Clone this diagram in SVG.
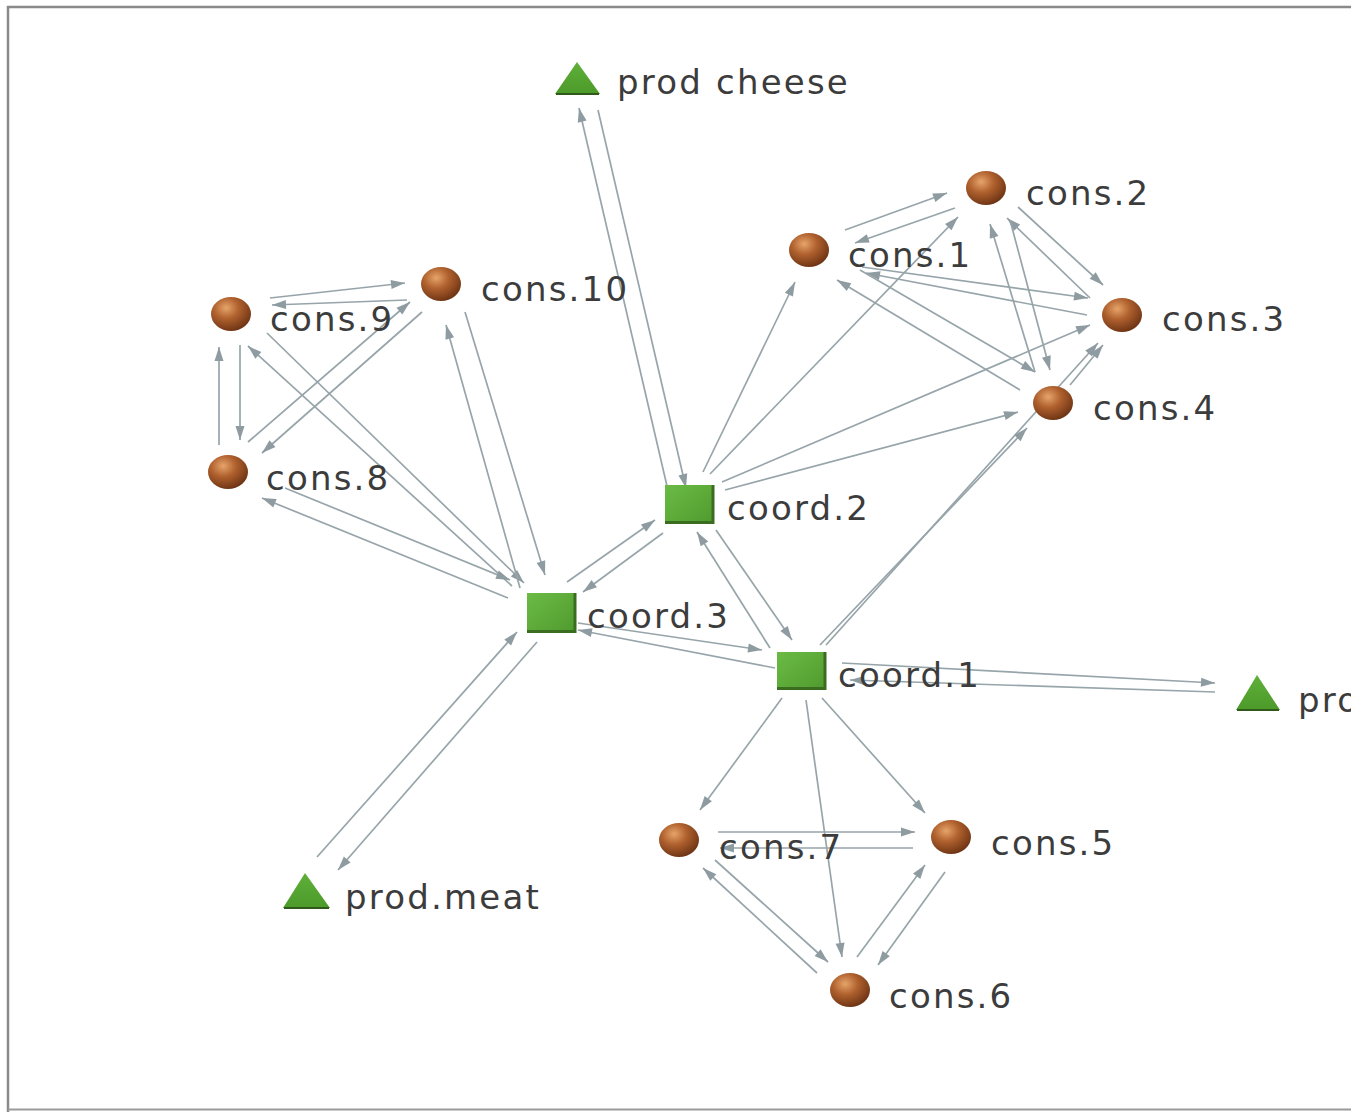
<svg xmlns="http://www.w3.org/2000/svg" width="1351" height="1112" viewBox="0 0 1351 1112">
<defs>
<radialGradient id="ball" cx="0.38" cy="0.32" r="0.7">
<stop offset="0" stop-color="#e6a46a"/>
<stop offset="0.45" stop-color="#b0612e"/>
<stop offset="1" stop-color="#6e3414"/>
</radialGradient>
<linearGradient id="sq" x1="0" y1="0" x2="1" y2="1">
<stop offset="0" stop-color="#6cbb45"/>
<stop offset="1" stop-color="#4f9a2e"/>
</linearGradient>
<linearGradient id="tri" x1="0" y1="0" x2="0" y2="1">
<stop offset="0" stop-color="#5fb03a"/>
<stop offset="1" stop-color="#4c9a2a"/>
</linearGradient>
<marker id="arr" markerUnits="userSpaceOnUse" markerWidth="20" markerHeight="12" refX="16" refY="6" orient="auto" overflow="visible">
<path d="M2,1.5 L16,6 L2,10.5 Z" fill="#8e9ca2"/>
</marker>
</defs>
<style>
.e{stroke:#97a5aa;stroke-width:1.7;fill:none;marker-end:url(#arr)}
.b{fill:url(#ball)}
.s{fill:url(#sq);stroke:#3b6d20;stroke-width:0}
.t{fill:url(#tri)}
.lbl{font-family:"DejaVu Sans","Liberation Sans",sans-serif;font-size:34px;letter-spacing:2.2px;fill:#3c3c3c}
</style>
<rect x="0" y="0" width="1351" height="1112" fill="#ffffff"/>
<path d="M8,1112 L8,7 L1351,7" fill="none" stroke="#8a8a8a" stroke-width="2.5"/>
<path d="M8,1109.5 L1351,1109.5" fill="none" stroke="#9a9a9a" stroke-width="2"/>
<g id="connectors">
<line class="e" x1="598" y1="110" x2="686" y2="488"/>
<line class="e" x1="667" y1="486" x2="579" y2="108"/>
<line class="e" x1="703" y1="472" x2="795" y2="282"/>
<line class="e" x1="710" y1="474" x2="958" y2="217"/>
<line class="e" x1="722" y1="482" x2="1090" y2="325"/>
<line class="e" x1="725" y1="490" x2="1018" y2="412"/>
<line class="e" x1="845" y1="230" x2="947" y2="193"/>
<line class="e" x1="955" y1="208" x2="855" y2="243"/>
<line class="e" x1="862" y1="267" x2="1088" y2="298"/>
<line class="e" x1="1087" y1="315" x2="866" y2="273"/>
<line class="e" x1="860" y1="270" x2="1035" y2="372"/>
<line class="e" x1="1020" y1="390" x2="837" y2="280"/>
<line class="e" x1="1018" y1="207" x2="1103" y2="285"/>
<line class="e" x1="1090" y1="298" x2="1007" y2="218"/>
<line class="e" x1="1010" y1="220" x2="1050" y2="370"/>
<line class="e" x1="1035" y1="372" x2="990" y2="224"/>
<line class="e" x1="1070" y1="385" x2="1103" y2="345"/>
<line class="e" x1="826" y1="645" x2="1098" y2="343"/>
<line class="e" x1="820" y1="645" x2="1027" y2="428"/>
<line class="e" x1="270" y1="298" x2="405" y2="283"/>
<line class="e" x1="407" y1="300" x2="272" y2="305"/>
<line class="e" x1="219" y1="445" x2="219" y2="347"/>
<line class="e" x1="240" y1="345" x2="240" y2="440"/>
<line class="e" x1="248" y1="442" x2="410" y2="302"/>
<line class="e" x1="422" y1="312" x2="262" y2="453"/>
<line class="e" x1="512" y1="586" x2="248" y2="346"/>
<line class="e" x1="267" y1="333" x2="524" y2="583"/>
<line class="e" x1="520" y1="588" x2="446" y2="325"/>
<line class="e" x1="465" y1="312" x2="545" y2="575"/>
<line class="e" x1="285" y1="488" x2="510" y2="580"/>
<line class="e" x1="508" y1="598" x2="262" y2="498"/>
<line class="e" x1="567" y1="582" x2="655" y2="520"/>
<line class="e" x1="663" y1="533" x2="583" y2="592"/>
<line class="e" x1="578" y1="623" x2="762" y2="650"/>
<line class="e" x1="775" y1="668" x2="578" y2="630"/>
<line class="e" x1="770" y1="648" x2="697" y2="532"/>
<line class="e" x1="716" y1="530" x2="792" y2="640"/>
<line class="e" x1="842" y1="663" x2="1215" y2="683"/>
<line class="e" x1="1215" y1="692" x2="850" y2="680"/>
<line class="e" x1="317" y1="857" x2="517" y2="632"/>
<line class="e" x1="537" y1="642" x2="338" y2="870"/>
<line class="e" x1="782" y1="698" x2="700" y2="810"/>
<line class="e" x1="822" y1="698" x2="925" y2="813"/>
<line class="e" x1="806" y1="700" x2="842" y2="957"/>
<line class="e" x1="718" y1="832" x2="915" y2="832"/>
<line class="e" x1="913" y1="848" x2="720" y2="848"/>
<line class="e" x1="715" y1="860" x2="828" y2="962"/>
<line class="e" x1="817" y1="973" x2="703" y2="868"/>
<line class="e" x1="857" y1="957" x2="925" y2="865"/>
<line class="e" x1="945" y1="872" x2="878" y2="965"/>
</g>
<g id="prod_cheese"><polygon class="t" points="555,94 600,94 577,62"/><line x1="556" y1="94" x2="599" y2="94" stroke="#2f5a1a" stroke-width="2"/><text class="lbl" x="617" y="94">prod cheese</text></g>
<g id="cons2"><ellipse class="b" cx="986" cy="188" rx="20" ry="17"/><text class="lbl" x="1026" y="205">cons.2</text></g>
<g id="cons1"><ellipse class="b" cx="809" cy="250" rx="20" ry="17"/><text class="lbl" x="848" y="267">cons.1</text></g>
<g id="cons3"><ellipse class="b" cx="1122" cy="315" rx="20" ry="17"/><text class="lbl" x="1162" y="331">cons.3</text></g>
<g id="cons4"><ellipse class="b" cx="1053" cy="403" rx="20" ry="17"/><text class="lbl" x="1093" y="420">cons.4</text></g>
<g id="cons10"><ellipse class="b" cx="441" cy="284" rx="20" ry="17"/><text class="lbl" x="481" y="301">cons.10</text></g>
<g id="cons9"><ellipse class="b" cx="231" cy="314" rx="20" ry="17"/><text class="lbl" x="270" y="331">cons.9</text></g>
<g id="cons8"><ellipse class="b" cx="228" cy="472" rx="20" ry="17"/><text class="lbl" x="266" y="490">cons.8</text></g>
<g id="coord2"><rect class="s" x="665" y="485" width="48" height="39"/><path d="M665,522.5 H713 V485" fill="none" stroke="#3b6d20" stroke-width="3"/><text class="lbl" x="727" y="520">coord.2</text></g>
<g id="coord3"><rect class="s" x="527" y="593" width="48" height="40"/><path d="M527,631.5 H575 V593" fill="none" stroke="#3b6d20" stroke-width="3"/><text class="lbl" x="587" y="628">coord.3</text></g>
<g id="coord1"><rect class="s" x="777" y="652" width="48" height="38"/><path d="M777,688.5 H825 V652" fill="none" stroke="#3b6d20" stroke-width="3"/><text class="lbl" x="838" y="687">coord.1</text></g>
<g id="prod_right"><polygon class="t" points="1236,710 1280,710 1257,675"/><line x1="1237" y1="710" x2="1279" y2="710" stroke="#2f5a1a" stroke-width="2"/><text class="lbl" x="1298" y="712">pro</text></g>
<g id="cons7"><ellipse class="b" cx="679" cy="840" rx="20" ry="17"/><text class="lbl" x="719" y="859">cons.7</text></g>
<g id="cons5"><ellipse class="b" cx="951" cy="837" rx="20" ry="17"/><text class="lbl" x="991" y="855">cons.5</text></g>
<g id="cons6"><ellipse class="b" cx="850" cy="990" rx="20" ry="17"/><text class="lbl" x="889" y="1008">cons.6</text></g>
<g id="prod_meat"><polygon class="t" points="283,908 330,908 305,873"/><line x1="284" y1="908" x2="329" y2="908" stroke="#2f5a1a" stroke-width="2"/><text class="lbl" x="345" y="909">prod.meat</text></g>
</svg>
